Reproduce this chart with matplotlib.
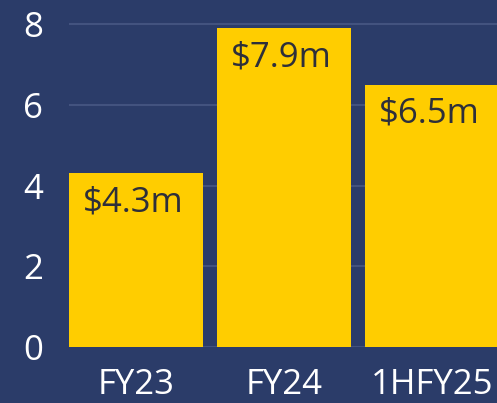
import matplotlib.pyplot as plt

periods = ["FY23", "FY24", "1HFY25"]
revenue = [4.3, 7.9, 6.5]
bar_labels = ["$4.3m", "$7.9m", "$6.5m"]
yticks = [0, 2, 4, 6, 8]

bg = "#2b3c69"
yellow = "#ffcd00"

plt.rcParams["font.family"] = ["Open Sans", "DejaVu Sans"]

fig = plt.figure(figsize=(4.97, 4.03), dpi=100, facecolor=bg)
ax = fig.add_axes([0.139, 0.139, 0.861, 0.861])
ax.set_facecolor(bg)

x = list(range(len(periods)))
bars = ax.bar(x, revenue, width=0.905, color=yellow, zorder=2)

for b, lab in zip(bars, bar_labels):
    ax.annotate(lab, (b.get_x(), b.get_height()), xytext=(10, -21),
                textcoords="offset points", ha="left", va="center",
                fontsize=25, color="#2e2f3a", zorder=3)

ax.set_xlim(-0.455, 2.44)
ax.set_ylim(0, 8.6)
ax.set_xticks(x)
ax.set_xticklabels(periods)
ax.set_yticks(yticks)
ax.tick_params(axis="both", length=0, colors="white", labelsize=25)
ax.tick_params(axis="y", pad=19)
ax.tick_params(axis="x", pad=15)
ax.yaxis.grid(True, color="#43537f", linewidth=1.5, zorder=0)
ax.set_axisbelow(True)
for s in ax.spines.values():
    s.set_visible(False)

fig.savefig("out.png", dpi=100, facecolor=bg)
